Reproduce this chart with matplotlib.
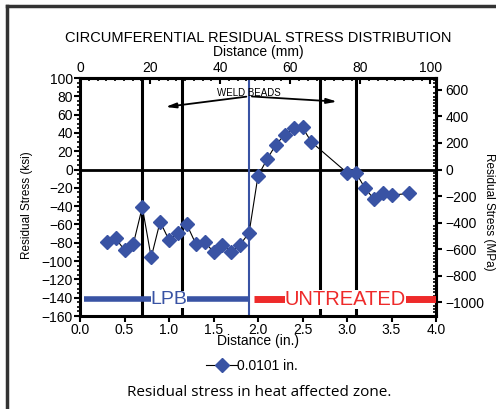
import numpy as np
import matplotlib
matplotlib.use("Agg")
import matplotlib.pyplot as plt
from matplotlib.ticker import MultipleLocator
from matplotlib.lines import Line2D

plt.rcParams['font.family'] = ['Liberation Sans', 'DejaVu Sans']

# data
dist_in = [0.3, 0.4, 0.5, 0.6, 0.7, 0.8, 0.9, 1.0, 1.1, 1.2, 1.3, 1.4, 1.5, 1.6,
           1.7, 1.8, 1.9, 2.0, 2.1, 2.2, 2.3, 2.4, 2.5, 2.6, 3.0, 3.1, 3.2, 3.3,
           3.4, 3.5, 3.7]
stress_ksi = [-79, -75, -88, -81, -41, -96, -57, -77, -69, -60, -81, -79, -90, -82,
              -90, -82, -69, -7, 11, 27, 38, 45, 46, 30, -3.5, -3.5, -20, -32,
              -26, -28, -26]
weld_lines = [0.7, 1.15, 2.7, 3.1]
lpb_boundary = 1.9
series_label = "0.0101 in."

BLUE = '#3953a4'
RED = '#ee2a2a'
KSI2MPA = 6.894757

fig = plt.figure(figsize=(4.96, 4.09), dpi=100)
ax = fig.add_axes([80/496, 1 - 316/409, 356/496, 238/409])

ax.set_xlim(0, 4.0)
ax.set_ylim(-160, 100)

ax.axhline(0, color='black', lw=2, zorder=2)
for x in weld_lines:
    ax.axvline(x, color='black', lw=2.2, zorder=2)
ax.axvline(lpb_boundary, color=BLUE, lw=1.5, zorder=2)

ax.plot(dist_in, stress_ksi, color='black', lw=0.8, marker='D', ms=7.3,
        mfc=BLUE, mec=BLUE, zorder=5)

# treated / untreated bars
ax.plot([0.05, 1.9], [-141.5, -141.5], color=BLUE, lw=4, solid_capstyle='butt', zorder=3)
ax.text(1.0, -141.5, "LPB", color=BLUE, fontsize=14, ha='center', va='center',
        bbox=dict(facecolor='white', edgecolor='none', pad=0), zorder=4)
ax.plot([1.95, 4.0], [-141.5, -141.5], color=RED, lw=5, solid_capstyle='butt', zorder=3)
ax.text(2.98, -141.5, "UNTREATED", color=RED, fontsize=14.5, ha='center', va='center',
        bbox=dict(facecolor='white', edgecolor='none', pad=0), zorder=4)

# weld beads annotation
ax.text(1.9, 84, "WELD BEADS", fontsize=7, ha='center', va='center')
arrow = dict(arrowstyle='-|>,head_length=0.6,head_width=0.15', color='black', lw=1.3)
ax.annotate("", xy=(0.93, 68), xytext=(1.9, 80), arrowprops=arrow)
ax.annotate("", xy=(2.92, 74), xytext=(1.9, 80), arrowprops=arrow)

# bottom / left axes
for s in ax.spines.values():
    s.set_linewidth(2.2)
ax.xaxis.set_major_locator(MultipleLocator(0.5))
ax.xaxis.set_major_formatter(plt.FormatStrFormatter('%.1f'))
ax.yaxis.set_major_locator(MultipleLocator(20))
ax.yaxis.set_minor_locator(MultipleLocator(5))
ax.tick_params(axis='both', which='major', labelsize=10, width=1.5, length=4, pad=1)
ax.tick_params(axis='y', which='minor', width=1.2, length=2.5)
ax.tick_params(axis='x', which='minor', bottom=False)

# top axis in mm
top = ax.secondary_xaxis('top', functions=(lambda x: x * 25.4, lambda x: x / 25.4))
top.xaxis.set_major_locator(MultipleLocator(20))
top.xaxis.set_minor_locator(MultipleLocator(2.5))
top.tick_params(which='major', direction='in', length=4, width=1.5, labelsize=10, pad=2)
top.tick_params(which='minor', direction='in', length=2.5, width=1.2)
top.spines['top'].set_linewidth(2.2)

# right axis in MPa
right = ax.secondary_yaxis('right', functions=(lambda y: y * KSI2MPA, lambda y: y / KSI2MPA))
right.yaxis.set_minor_locator(MultipleLocator(25))
right.set_yticks([600, 400, 200, 0, -200, -400, -600, -800, -1000])
right.tick_params(which='major', length=4, width=1.5, labelsize=10, pad=3)
right.tick_params(which='minor', direction='in', length=2.5, width=1.2)
right.spines['right'].set_linewidth(2.2)

# labels
fig.text(258/496, 1 - 38/409, "CIRCUMFERENTIAL RESIDUAL STRESS DISTRIBUTION",
         fontsize=10.5, ha='center', va='center')
fig.text(258/496, 1 - 52/409, "Distance (mm)", fontsize=10, ha='center', va='center')
fig.text(258/496, 1 - 341/409, "Distance (in.)", fontsize=10, ha='center', va='center')
fig.text(27/496, 1 - 205/409, "Residual Stress (ksi)", fontsize=8.5, rotation=90,
         ha='center', va='center')
fig.text(489/496, 1 - 212/409, "Residual Stress (MPa)", fontsize=8.5, rotation=270,
         ha='center', va='center')

handle = Line2D([], [], color='black', lw=0.8, marker='D', ms=7.3, mfc=BLUE, mec=BLUE)
fig.legend([handle], [series_label], loc='center', bbox_to_anchor=(252/496, 1 - 366/409),
           frameon=False, fontsize=10, handlelength=2.2, handletextpad=0)

fig.text(259/496, 1 - 393/409, "Residual stress in heat affected zone.",
         fontsize=11, ha='center', va='center', family=['Open Sans', 'DejaVu Sans'])

# outer frame (left and top edges)
fig.add_artist(Line2D([7/496, 7/496], [0, 1 - 6/409], color='#333333', lw=2.5,
                      transform=fig.transFigure))
fig.add_artist(Line2D([7/496, 1], [1 - 6/409, 1 - 6/409], color='#333333', lw=2.5,
                      transform=fig.transFigure))

fig.savefig("out.png", dpi=100)
